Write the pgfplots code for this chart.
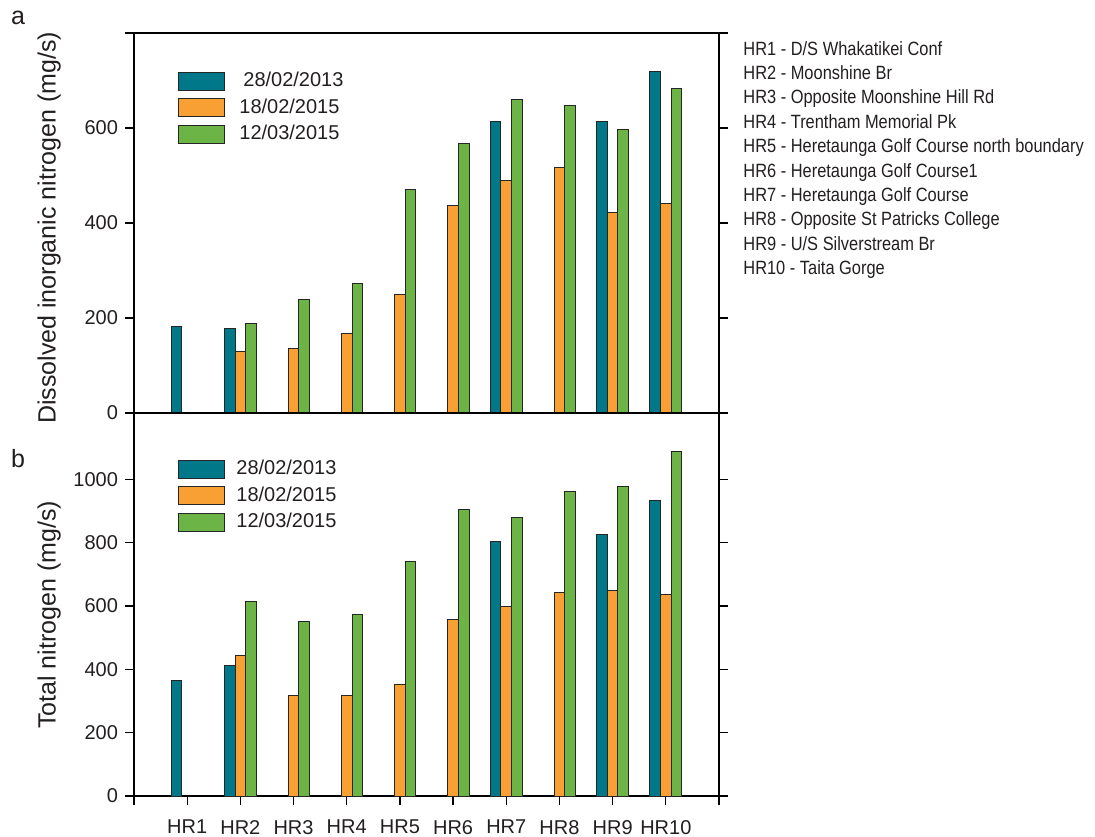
\documentclass[border=0pt]{standalone}
\usepackage{fontspec}
\setmainfont{Liberation Sans}
\newfontfamily\narrowfont[FakeStretch=0.855]{Liberation Sans}
\usepackage{pgfplots}
\pgfplotsset{compat=1.18}
\definecolor{cteal}{RGB}{0,120,138}
\definecolor{corange}{RGB}{248,160,52}
\definecolor{cgreen}{RGB}{108,180,70}
\definecolor{ctext}{RGB}{35,31,32}
\pgfplotsset{
  panel/.style={
    scale only axis, width=292.5pt,
    xmin=0, xmax=11, ymin=0,
    ybar=0pt, bar width=0.2,
    tick align=outside, major tick length=4.5pt,
    ytick pos=both, yticklabel pos=left,
    axis line style={line width=0.6pt, black},
    tick style={line width=0.6pt, black},
    tick label style={font=\fontsize{10}{12}\selectfont, text=ctext},
    /pgf/number format/assume math mode=true,
    /pgf/number format/1000 sep={},
    ylabel style={font=\fontsize{12.5}{15}\selectfont, text=ctext, anchor=center},
    legend image code/.code={\draw[#1, draw=black!85, line width=0.5pt] (0pt,-4.5pt) rectangle (23pt,4.5pt);},
    legend cell align=left,
  },
  s1/.style={fill=cteal, draw=black!85, line width=0.5pt, bar shift=-0.2},
  s2/.style={fill=corange, draw=black!85, line width=0.5pt, bar shift=0},
  s3/.style={fill=cgreen, draw=black!85, line width=0.5pt, bar shift=0.2},
}
\begin{document}
\begin{tikzpicture}
\useasboundingbox (0,0) rectangle (547.5pt,418pt);
% panel a
\begin{axis}[panel, at={(67pt,211.5pt)}, anchor=south west, height=190pt,
  ymax=800, ytick={0,200,400,600,800}, yticklabels={0,200,400,600,},
  xtick=\empty,
  ylabel={Dissolved inorganic nitrogen (mg/s)},
  ylabel style={at={(axis description cs:-0.145,0.487)}},
  legend style={draw=none, fill=none, at={(axis description cs:0.0752,0.908)}, anchor=north west,
    inner sep=0pt, row sep=0.5pt, column sep=5pt, font=\fontsize{10}{12}\selectfont, text=ctext},
]
\addplot[s1] coordinates {(1,182)(2,177)(7,614)(9,614)(10,718)};
\addplot[s2] coordinates {(2,130)(3,136)(4,168)(5,249)(6,436)(7,490)(8,517)(9,422)(10,442)};
\addplot[s3] coordinates {(2,188)(3,238)(4,272)(5,470)(6,567)(7,660)(8,648)(9,596)(10,683)};
\legend{\hspace{2pt}28/02/2013, 18/02/2015, 12/03/2015}
\end{axis}
% panel b
\begin{axis}[panel, at={(67pt,20pt)}, anchor=south west, height=191.5pt,
  ymax=1209, ytick={0,200,400,600,800,1000},
  xtick={1,...,10}, xticklabels={HR1,HR2,HR3,HR4,HR5,HR6,HR7,HR8,HR9,HR10},
  xtick pos=left, extra x ticks={0,11}, extra x tick labels={},
  xticklabel style={yshift=-4pt},
  ylabel={Total nitrogen (mg/s)},
  ylabel style={at={(axis description cs:-0.145,0.473)}},
  legend style={draw=none, fill=none, at={(axis description cs:0.0752,0.888)}, anchor=north west,
    inner sep=0pt, row sep=0.5pt, column sep=3.5pt, font=\fontsize{10}{12}\selectfont, text=ctext},
]
\addplot[s1] coordinates {(1,366)(2,412)(7,804)(9,825)(10,934)};
\addplot[s2] coordinates {(2,442)(3,318)(4,318)(5,353)(6,556)(7,597)(8,642)(9,649)(10,636)};
\addplot[s3] coordinates {(2,614)(3,551)(4,574)(5,739)(6,903)(7,880)(8,960)(9,977)(10,1087)};
\legend{28/02/2013, 18/02/2015, 12/03/2015}
\end{axis}
\node[anchor=base, font=\fontsize{12.5}{15}\selectfont, text=ctext] at (9pt,405.5pt) {a};
\node[anchor=base, font=\fontsize{12.5}{15}\selectfont, text=ctext] at (9pt,184.5pt) {b};
\node[anchor=north west, inner sep=0pt, align=left, text=ctext,
  font=\narrowfont\fontsize{9.6}{12.2}\selectfont] at (371.5pt,397.6pt)
  {HR1 - D/S Whakatikei Conf\\
   HR2 - Moonshine Br\\
   HR3 - Opposite Moonshine Hill Rd\\
   HR4 - Trentham Memorial Pk\\
   HR5 - Heretaunga Golf Course north boundary\\
   HR6 - Heretaunga Golf Course1\\
   HR7 - Heretaunga Golf Course\\
   HR8 - Opposite St Patricks College\\
   HR9 - U/S Silverstream Br\\
   HR10 - Taita Gorge};
\end{tikzpicture}
\end{document}
